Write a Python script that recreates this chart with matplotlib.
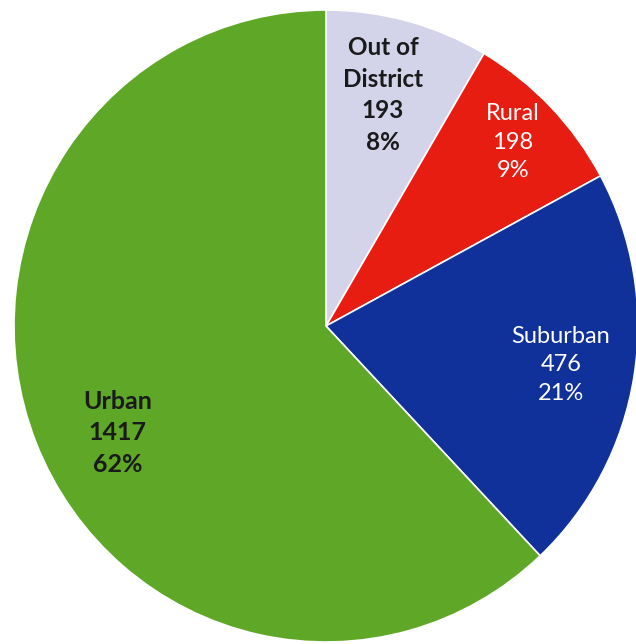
import numpy as np
import matplotlib
matplotlib.use("Agg")
import matplotlib.pyplot as plt

categories = ["Out of\nDistrict", "Rural", "Suburban", "Urban"]
counts = [193, 198, 476, 1417]
colors = ["#d3d3ea", "#e81d12", "#10309a", "#5fa726"]
text_colors = ["#1a1a1a", "white", "white", "#1a1a1a"]
weights = ["bold", "normal", "normal", "bold"]
sizes = [17.5, 17, 17, 18]
label_r = [0.754, 0.835, 0.763, 0.748]
label_dang = [1.2, 0.2, -0.15, 5.2]

fig = plt.figure(figsize=(6.36, 6.44), dpi=100)
ax = fig.add_axes([0, 0, 1, 1])
wedges, _ = ax.pie(counts, colors=colors, startangle=90, counterclock=False,
                   radius=1.0, center=(0, 0),
                   wedgeprops=dict(edgecolor="white", linewidth=1.2))
ax.set_aspect("auto")
ax.set_xlim(-326 / 312, (636 - 326) / 312)
ax.set_ylim(-(644 - 326) / 316, 326 / 316)
ax.axis("off")

total = sum(counts)
for w, cat, n, tc, fw, fs, r, da in zip(wedges, categories, counts, text_colors,
                                         weights, sizes, label_r, label_dang):
    mid = np.deg2rad((w.theta1 + w.theta2) / 2 + da)
    x, y = r * np.cos(mid), r * np.sin(mid)
    pct = round(100 * n / total)
    ax.text(x, y, f"{cat}\n{n}\n{pct}%", ha="center", va="center",
            color=tc, fontweight=fw, fontsize=fs, family=["Lato", "DejaVu Sans"],
            linespacing=1.45)

fig.savefig("out.png", dpi=100)
